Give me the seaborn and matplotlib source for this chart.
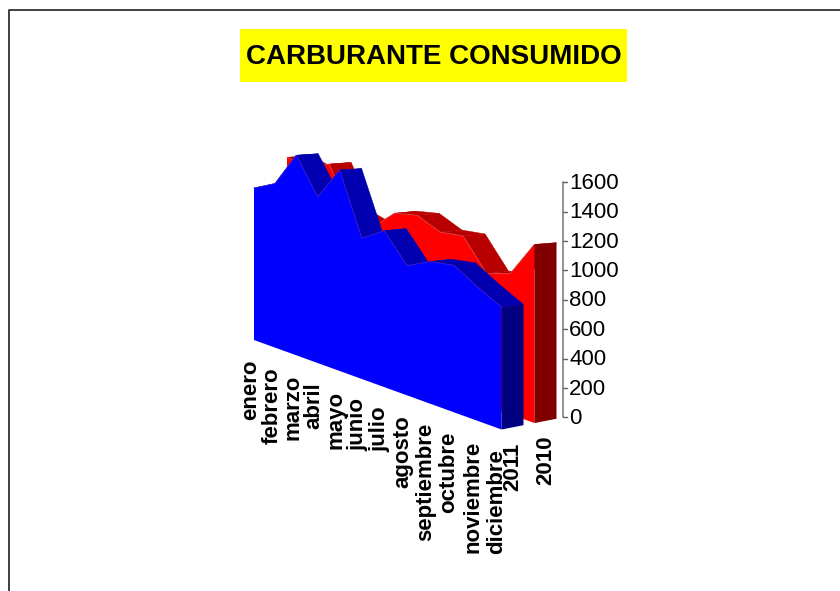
import matplotlib
matplotlib.use('Agg')
import matplotlib.pyplot as plt
import numpy as np
import pandas as pd
import seaborn as sns

meses = ['enero', 'febrero', 'marzo', 'abril', 'mayo', 'junio', 'julio',
         'agosto', 'septiembre', 'octubre', 'noviembre', 'diciembre']
consumo_2011 = [1073, 1150, 1393, 1149, 1380, 960, 1059, 872, 949, 975, 882, 800]
consumo_2010 = [1271, 1244, 1314, 1004, 964, 1110, 1144, 1077, 1100, 895, 947, 1193]
ticks_valor = [0, 200, 400, 600, 800, 1000, 1200, 1400, 1600]

sns.set_theme(style='white')
plt.rcParams['font.family'] = ['Liberation Sans', 'DejaVu Sans']

# ─── 3D look: projection of (month, depth, value) onto the page ───
def proyecta(i, prof, valor):
    s = i / 11
    den = s + (1 - s) * 1.08
    u = s / den
    x = 254 + 247.5 * u + 22 * prof
    y = 340 + 89.5 * u - 4.3 * prof - valor * 0.153 * (1 - 0.014 * prof) / den
    return x, y


def serie_3d(ax, valores, p0, p1, frente, arriba, lado, borde, z):
    n = len(valores)
    # top faces, left to right
    for i in range(n - 1):
        pts = [proyecta(i, p0, valores[i]), proyecta(i, p1, valores[i]),
               proyecta(i + 1, p1, valores[i + 1]), proyecta(i + 1, p0, valores[i + 1])]
        ax.fill(*zip(*pts), color=arriba, lw=0.3, ec=arriba, zorder=z)
    # thin edge along the top of the front face
    tope = pd.DataFrame([proyecta(i, p0, valores[i]) for i in range(n)], columns=['x', 'y'])
    sns.lineplot(data=tope, x='x', y='y', sort=False, estimator=None,
                 color=borde, lw=0.6, ax=ax, zorder=z + 0.2)
    # front face
    cara = [proyecta(i, p0, valores[i]) for i in range(n)]
    cara += [proyecta(n - 1, p0, 0), proyecta(0, p0, 0)]
    ax.fill(*zip(*cara), color=frente, lw=0, zorder=z + 0.1)
    # end wall
    pared = [proyecta(n - 1, p0, valores[-1]), proyecta(n - 1, p1, valores[-1]),
             proyecta(n - 1, p1, 0), proyecta(n - 1, p0, 0)]
    ax.fill(*zip(*pared), color=lado, lw=0, zorder=z + 0.1)


fig = plt.figure(figsize=(8.4, 5.91), dpi=100)
ax = fig.add_axes([0, 0, 1, 1])
ax.set_xlim(0, 840)
ax.set_ylim(591, 0)

serie_3d(ax, consumo_2010, 1.5, 2.5, '#FF0000', '#B80000', '#800000', '#E04040', 2)
serie_3d(ax, consumo_2011, 0.0, 1.0, '#0000FF', '#0000B0', '#000080', '#4020D0', 3)

# value axis
PROF_EJE = 2.8
base = proyecta(11, PROF_EJE, 0)
cima = proyecta(11, PROF_EJE, ticks_valor[-1])
ax.plot([base[0], cima[0]], [base[1], cima[1]], color='#808080', lw=1.2)
for v in ticks_valor:
    tx, ty = proyecta(11, PROF_EJE, v)
    ax.plot([tx, tx + 4], [ty, ty], color='#606060', lw=1)
    ax.text(tx + 6, ty + 1, str(v), fontsize=16, color='black', ha='left', va='center')

# category labels
for i, m in enumerate(meses):
    lx, ly = proyecta(i, 0, 0)
    ax.text(lx - 3 - 2 * i / 11, ly + 19.5, m, rotation=90, rotation_mode='anchor',
            fontsize=16, fontweight='bold', ha='right', va='center', color='black')
for anio, prof in [('2011', 0.5), ('2010', 2.0)]:
    lx, ly = proyecta(11, prof, 0)
    ax.text(lx + 0.5, ly + 15, anio, rotation=90, rotation_mode='anchor', fontsize=16,
            fontweight='bold', ha='right', va='center', color='black')

# chart frame (runs off the page at right and bottom)
ax.plot([9, 9, 860], [620, 10, 10], color='#303030', lw=1.3, clip_on=True)

# title
ax.fill([240, 627, 627, 240], [29, 29, 82, 82], color='#FFFF00', lw=0)
ax.text(434, 57, 'CARBURANTE CONSUMIDO', fontsize=20, fontweight='bold',
        ha='center', va='center', color='black')

ax.set_xlabel('')
ax.set_ylabel('')
ax.axis('off')
fig.savefig('out.png', dpi=100)
